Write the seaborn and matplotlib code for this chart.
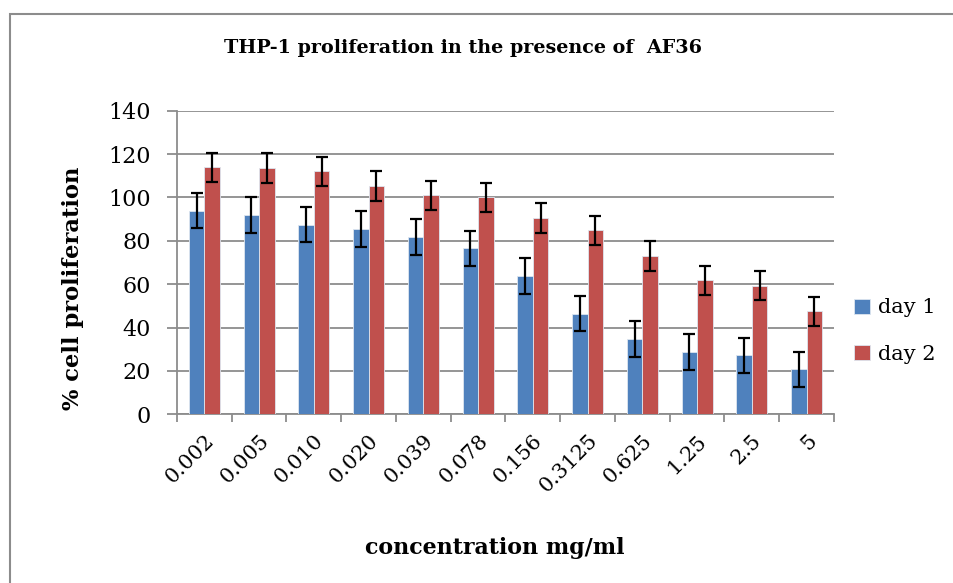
import numpy as np
import pandas as pd
import seaborn as sns
import matplotlib.pyplot as plt
from matplotlib.patches import Rectangle
from matplotlib.ticker import FixedLocator

# data
concentrations = ['0.002', '0.005', '0.010', '0.020', '0.039', '0.078',
                  '0.156', '0.3125', '0.625', '1.25', '2.5', '5']
day1 = [93.8, 92.0, 87.5, 85.5, 81.7, 76.5, 63.7, 46.4, 34.7, 28.6, 27.2, 20.7]
day2 = [114.0, 113.6, 112.0, 105.2, 100.9, 100.0, 90.5, 84.8, 73.1, 61.8, 59.3, 47.6]
err1 = [8.1, 8.2, 8.2, 8.3, 8.3, 8.2, 8.2, 8.1, 8.2, 8.2, 8.2, 8.2]
err2 = [6.7, 6.8, 6.8, 6.8, 6.7, 6.8, 6.8, 6.7, 6.8, 6.7, 6.7, 6.7]
series = ['day 1', 'day 2']
colors = ['#4F81BD', '#C0504D']

df = pd.DataFrame({
    'conc': concentrations * 2,
    'value': day1 + day2,
    'err': err1 + err2,
    'day': [series[0]] * len(day1) + [series[1]] * len(day2),
})

sns.set_style('white')
plt.rcParams['font.family'] = ['DejaVu Serif']
plt.rcParams['text.color'] = 'black'
plt.rcParams['xtick.labelcolor'] = 'black'
plt.rcParams['ytick.labelcolor'] = 'black'

fig = plt.figure(figsize=(9.54, 5.83), dpi=100)
ax = fig.add_axes([177/954, 1 - 414.3/583, (834-177)/954, (414.3-110.7)/583])

sns.barplot(data=df, x='conc', y='value', hue='day', order=concentrations,
            hue_order=series, palette=colors, width=0.57, gap=0,
            errorbar=None, saturation=1, edgecolor='#dde6f0', linewidth=0.6,
            ax=ax, zorder=3)

# error bars on top of the bars drawn by seaborn
for container, errs in zip(ax.containers, [err1, err2]):
    xs = [p.get_x() + p.get_width() / 2 for p in container.patches]
    ys = [p.get_height() for p in container.patches]
    ax.errorbar(xs, ys, yerr=errs, fmt='none', ecolor='black',
                elinewidth=1.6, capsize=4.3, capthick=1.6, zorder=4)

ax.set_ylim(0, 140)
ax.set_xlim(-0.5, len(concentrations) - 0.5)
ax.set_yticks(range(0, 141, 20))
ax.yaxis.grid(True, color='#8c8c8c', linewidth=1.3, zorder=0)
ax.set_axisbelow(True)

for side in ['top', 'right']:
    ax.spines[side].set_visible(False)
for side in ['left', 'bottom']:
    ax.spines[side].set_color('#8c8c8c')
    ax.spines[side].set_linewidth(1.3)

ax.tick_params(axis='y', labelsize=16, length=7, width=1.3, color='#8c8c8c',
               pad=12, left=True, labelcolor='black')
ax.tick_params(axis='x', which='major', length=0, labelsize=15, pad=12,
               labelcolor='black')
ax.xaxis.set_minor_locator(FixedLocator(np.arange(-0.5, len(concentrations), 1)))
ax.tick_params(axis='x', which='minor', length=6, width=1.3, color='#8c8c8c',
               bottom=True)
plt.setp(ax.get_xticklabels(), rotation=45, ha='right', rotation_mode='anchor')

ax.set_xlabel('')
ax.set_ylabel('')

fig.text(463/954, 1 - 48/583, 'THP-1 proliferation in the presence of  AF36',
         ha='center', va='center', fontsize=13.8, fontweight='bold')
fig.text(73/954, 1 - 288/583, '% cell proliferation', rotation=90,
         ha='center', va='center', fontsize=16.3, fontweight='bold')
fig.text(495/954, 1 - 548/583, 'concentration mg/ml',
         ha='center', va='center', fontsize=15.9, fontweight='bold')

leg = ax.legend(loc='center left', bbox_to_anchor=(854/954, 1 - 331/583),
                bbox_transform=fig.transFigure, frameon=False, fontsize=15,
                handlelength=0.75, handleheight=0.75, handletextpad=0.4,
                labelspacing=1.3, borderaxespad=0, borderpad=0)

# chart border (cropped at right and bottom)
fig.patches.append(Rectangle((10.5/954, -0.1), 1.2, 1 - 13.5/583 + 0.1,
                             transform=fig.transFigure, fill=False,
                             edgecolor='#8c8c8c', linewidth=1.5))

fig.savefig('out.png', dpi=100)
